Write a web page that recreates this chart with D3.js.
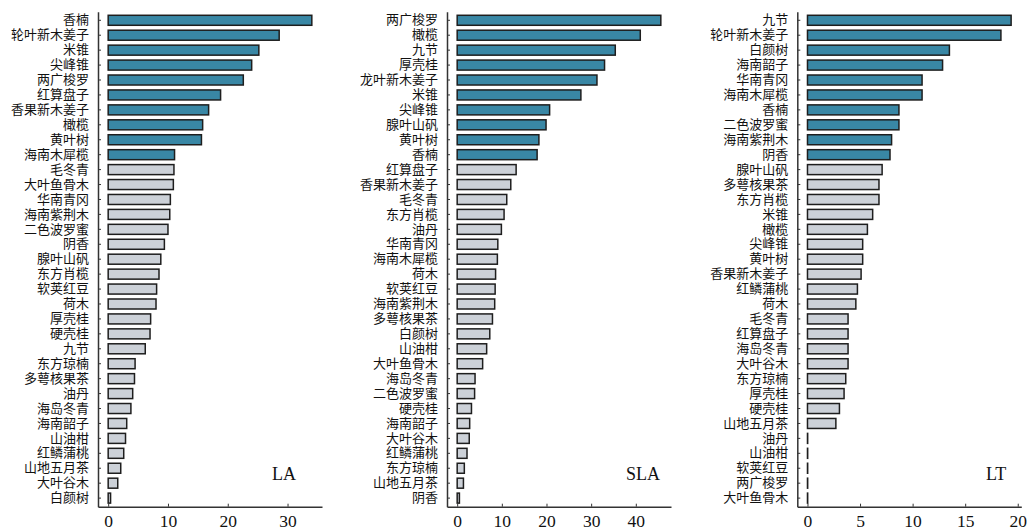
<!DOCTYPE html>
<html><head><meta charset="utf-8">
<script src="https://cdn.jsdelivr.net/npm/d3@7"></script>
<style>body{margin:0;background:#fff}svg{display:block}</style>
</head><body>
<svg id="chart" width="1029" height="530"></svg>
<script>
const laSpecies = ["香楠","轮叶新木姜子","米锥","尖峰锥","两广梭罗","红算盘子","香果新木姜子","橄榄","黄叶树","海南木犀榄","毛冬青","大叶鱼骨木","华南青冈","海南紫荆木","二色波罗蜜","阴香","腺叶山矾","东方肖榄","软荚红豆","荷木","厚壳桂","硬壳桂","九节","东方琼楠","多萼核果茶","油丹","海岛冬青","海南韶子","山油柑","红鳞蒲桃","山地五月茶","大叶谷木","白颜树"];
const laValues = [34.06,28.6,25.2,24.0,22.6,18.8,16.8,15.8,15.6,11.1,11.0,10.9,10.4,10.3,10.0,9.4,8.8,8.5,8.1,8.0,7.1,7.0,6.2,4.5,4.4,4.1,3.8,3.1,2.9,2.6,2.1,1.6,0.4];

const slaSpecies = ["两广梭罗","橄榄","九节","厚壳桂","龙叶新木姜子","米锥","尖峰锥","腺叶山矾","黄叶树","香楠","红算盘子","香果新木姜子","毛冬青","东方肖榄","油丹","华南青冈","海南木犀榄","荷木","软荚红豆","海南紫荆木","多萼核果茶","白颜树","山油柑","大叶鱼骨木","海岛冬青","二色波罗蜜","硬壳桂","海南韶子","大叶谷木","红鳞蒲桃","东方琼楠","山地五月茶","阴香"];
const slaValues = [45.6,41.0,35.4,33.0,31.3,27.7,20.7,19.9,18.3,17.9,13.2,12.0,11.1,10.5,9.9,9.1,9.0,8.6,8.5,8.4,7.9,7.3,6.6,5.7,4.0,3.9,3.2,2.8,2.7,2.2,1.6,1.4,0.5];

const ltSpecies = ["九节","轮叶新木姜子","白颜树","海南韶子","华南青冈","海南木犀榄","香楠","二色波罗蜜","海南紫荆木","阴香","腺叶山矾","多萼核果茶","东方肖榄","米锥","橄榄","尖峰锥","黄叶树","香果新木姜子","红鳞蒲桃","荷木","毛冬青","红算盘子","海岛冬青","大叶谷木","东方琼楠","厚壳桂","硬壳桂","山地五月茶","油丹","山油柑","软荚红豆","两广梭罗","大叶鱼骨木"];
const ltValues = [19.37,18.4,13.5,12.85,10.9,10.9,8.7,8.7,8.0,7.85,7.1,6.8,6.8,6.2,5.7,5.25,5.25,5.1,4.75,4.6,3.86,3.86,3.86,3.86,3.64,3.48,3.04,2.7,0,0,0,0,0];

const panelNames = ["LA","SLA","LT"];
const laTicks = [0,10,20,30];
const slaTicks = [0,10,20,30,40];
const ltTicks = [0,5,10,15,20];
const topN = 10;

const panels = [
  {name: panelNames[0], cats: laSpecies, vals: laValues, ticks: laTicks},
  {name: panelNames[1], cats: slaSpecies, vals: slaValues, ticks: slaTicks},
  {name: panelNames[2], cats: ltSpecies, vals: ltValues, ticks: ltTicks}
];

const svg = d3.select("#chart");
const lefts = [98, 447, 797.3];
const panelW = 224;
const yTop = 11.7, yBottom = 506.7;
const labelX = [272, 626, 986];
const teal = "#3987a5", grey = "#ccd1d8", edge = "#1e1e1e", axisCol = "#333";

panels.forEach((p, pi) => {
  const maxV = d3.max(p.vals);
  const x = d3.scaleLinear().domain([-0.05*maxV, 1.05*maxV]).range([lefts[pi], lefts[pi]+panelW]);
  const y = d3.scaleBand().domain(p.cats).range([yTop, yBottom]).paddingInner(0.33).paddingOuter(0.24);
  const g = svg.append("g");

  g.selectAll("rect").data(p.cats).join("rect")
    .attr("x", x(0))
    .attr("y", d => y(d))
    .attr("width", (d,i) => Math.max(x(p.vals[i]) - x(0), 0.2))
    .attr("height", y.bandwidth())
    .attr("fill", (d,i) => i < topN ? teal : grey)
    .attr("stroke", edge)
    .attr("stroke-width", 1.5);

  const ya = g.append("g").attr("transform", `translate(${lefts[pi]},0)`)
    .call(d3.axisLeft(y).tickSize(-3).tickSizeOuter(0).tickPadding(9));
  ya.select(".domain").attr("stroke", axisCol).attr("stroke-width", 1.5);
  ya.selectAll(".tick line").attr("stroke", axisCol).attr("stroke-width", 1);
  ya.selectAll(".tick text").attr("font-family", "'Noto Sans CJK SC', sans-serif")
    .attr("font-size", 13).attr("fill", "#111");

  const xa = g.append("g").attr("transform", `translate(0,${yBottom})`)
    .call(d3.axisBottom(x).tickValues(p.ticks).tickFormat(d3.format("d")).tickSize(-3).tickSizeOuter(0).tickPadding(7.5));
  xa.select(".domain").attr("stroke", axisCol).attr("stroke-width", 1.5);
  xa.selectAll(".tick line").attr("stroke", axisCol).attr("stroke-width", 1);
  xa.selectAll(".tick text").attr("font-family", "'Liberation Serif', serif")
    .attr("font-size", 17.5).attr("fill", "#111");

  g.append("text").attr("x", labelX[pi]).attr("y", 480)
    .attr("font-family", "'Liberation Serif', serif").attr("font-size", 18)
    .attr("fill", "#111").text(p.name);
});
</script>
</body></html>
